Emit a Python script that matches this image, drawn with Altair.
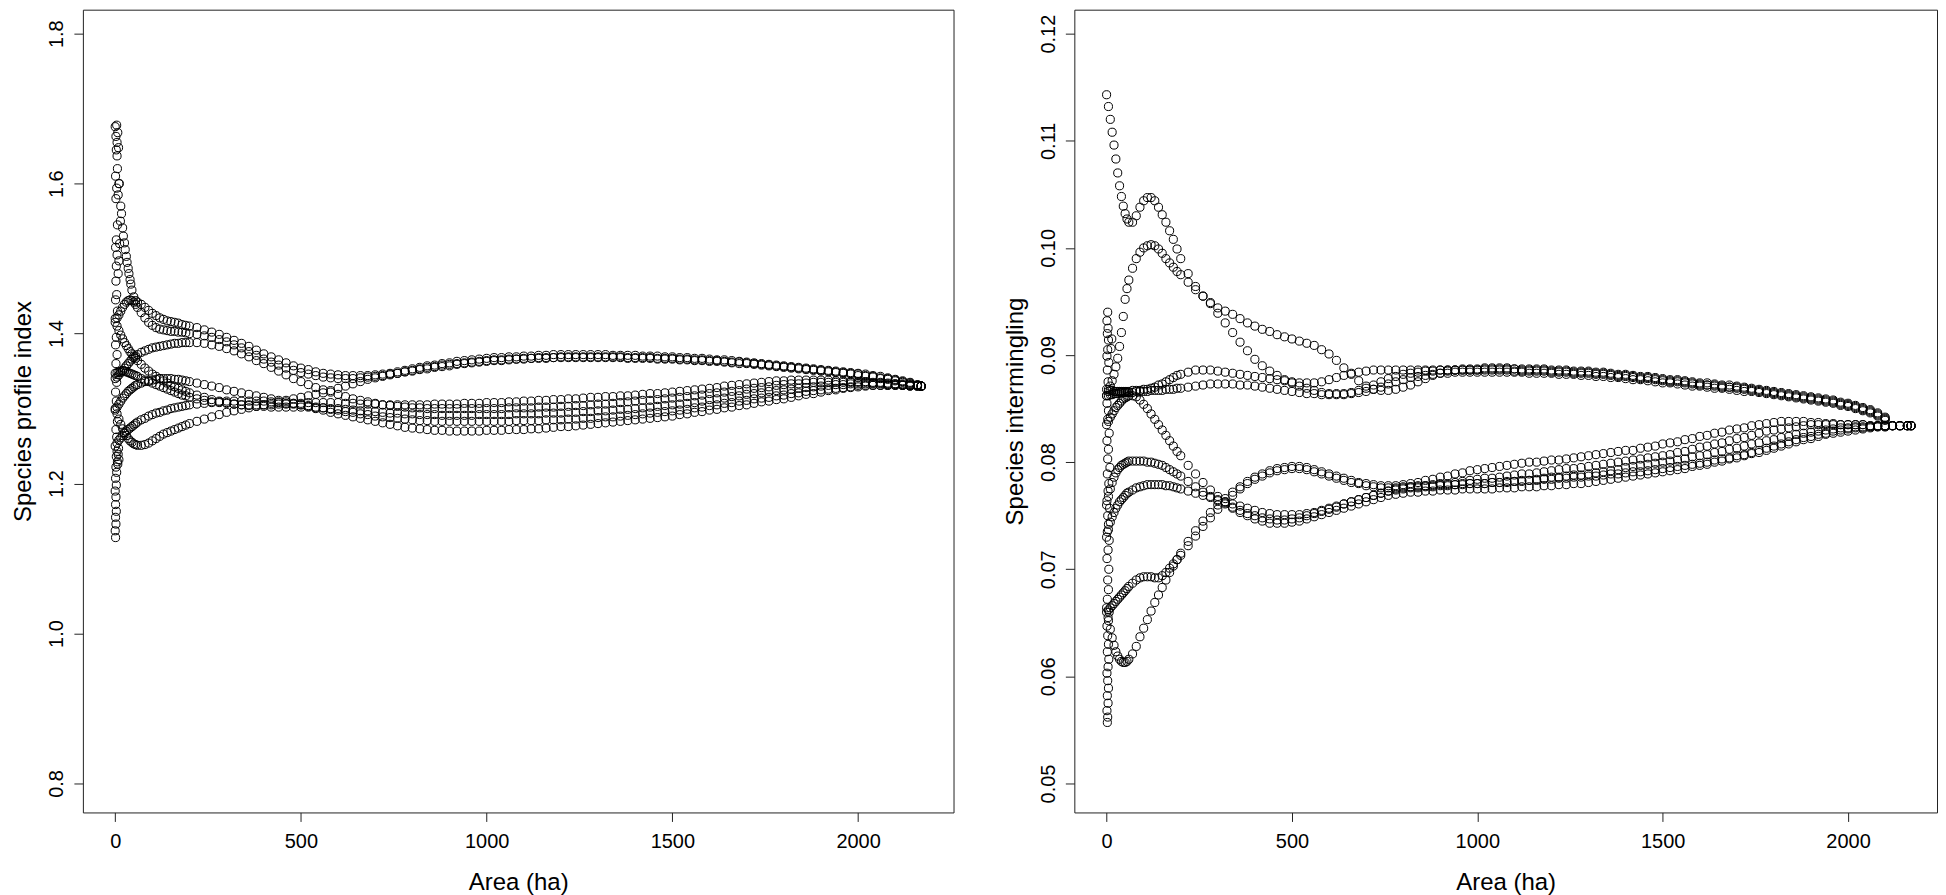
import altair as alt
import pandas as pd

# Area grid (ha) shared by every curve
AREA = [0, 5, 10, 15, 20, 25, 30, 35, 40, 45, 50, 55, 60,
        70, 80, 90, 100, 110, 120, 130, 140, 150, 160, 170, 180, 190, 200,
        220, 240, 260, 280, 300, 320, 340, 360, 380, 400, 420, 440, 460, 480, 500,
        520, 540, 560, 580, 600, 620, 640, 660, 680, 700, 720, 740, 760, 780, 800,
        820, 840, 860, 880, 900, 920, 940, 960, 980, 1000,
        1020, 1040, 1060, 1080, 1100, 1120, 1140, 1160, 1180, 1200,
        1220, 1240, 1260, 1280, 1300, 1320, 1340, 1360, 1380, 1400,
        1420, 1440, 1460, 1480, 1500, 1520, 1540, 1560, 1580, 1600,
        1620, 1640, 1660, 1680, 1700, 1720, 1740, 1760, 1780, 1800,
        1820, 1840, 1860, 1880, 1900, 1920, 1940, 1960, 1980, 2000,
        2020, 2040, 2060, 2080, 2100, 2120, 2140, 2160,
        2170]

# ---------------- Species profile index ----------------
SPI_1 = [1.676, 1.637, 1.600, 1.570, 1.541, 1.521, 1.503, 1.487, 1.472, 1.458, 1.449, 1.444, 1.442,
         1.439, 1.435, 1.431, 1.427, 1.424, 1.421, 1.419, 1.417, 1.416, 1.415, 1.414, 1.412, 1.411, 1.410,
         1.408, 1.405, 1.402, 1.399, 1.395, 1.391, 1.387, 1.383, 1.378, 1.373, 1.369, 1.365, 1.361, 1.357, 1.354,
         1.352, 1.349, 1.347, 1.346, 1.345, 1.344, 1.344, 1.344, 1.344, 1.345, 1.346, 1.347, 1.349, 1.351, 1.353,
         1.355, 1.357, 1.358, 1.360, 1.361, 1.363, 1.364, 1.365, 1.366, 1.367,
         1.368, 1.368, 1.369, 1.369, 1.370, 1.370, 1.371, 1.371, 1.372, 1.372,
         1.372, 1.372, 1.372, 1.372, 1.372, 1.372, 1.371, 1.371, 1.371, 1.371,
         1.370, 1.370, 1.370, 1.369, 1.369, 1.368, 1.368, 1.367, 1.367, 1.366,
         1.365, 1.365, 1.364, 1.363, 1.362, 1.361, 1.360, 1.359, 1.358, 1.357,
         1.356, 1.355, 1.354, 1.353, 1.352, 1.351, 1.350, 1.349, 1.348, 1.347,
         1.346, 1.344, 1.343, 1.341, 1.339, 1.337, 1.335, 1.332,
         1.330]
SPI_2 = [1.420, 1.421, 1.425, 1.430, 1.435, 1.439, 1.442, 1.444, 1.445, 1.444, 1.442, 1.439, 1.435,
         1.428, 1.421, 1.415, 1.411, 1.408, 1.406, 1.405, 1.404, 1.403, 1.403, 1.402, 1.402, 1.401, 1.400,
         1.399, 1.397, 1.395, 1.392, 1.389, 1.385, 1.381, 1.376, 1.371, 1.366, 1.362, 1.358, 1.354, 1.351, 1.348,
         1.346, 1.344, 1.342, 1.341, 1.340, 1.340, 1.340, 1.341, 1.342, 1.343, 1.344, 1.346, 1.347, 1.349, 1.350,
         1.352, 1.353, 1.355, 1.356, 1.357, 1.359, 1.360, 1.361, 1.362, 1.363,
         1.364, 1.364, 1.365, 1.366, 1.366, 1.367, 1.367, 1.367, 1.368, 1.368,
         1.368, 1.368, 1.368, 1.368, 1.368, 1.368, 1.368, 1.368, 1.367, 1.367,
         1.367, 1.367, 1.366, 1.366, 1.366, 1.365, 1.365, 1.364, 1.364, 1.363,
         1.363, 1.362, 1.361, 1.360, 1.360, 1.359, 1.358, 1.357, 1.356, 1.355,
         1.354, 1.353, 1.352, 1.351, 1.350, 1.349, 1.348, 1.347, 1.346, 1.344,
         1.343, 1.342, 1.340, 1.339, 1.337, 1.335, 1.333, 1.331,
         1.330]
SPI_3 = [1.340, 1.342, 1.345, 1.348, 1.351, 1.354, 1.357, 1.360, 1.363, 1.366, 1.368, 1.370, 1.372,
         1.375, 1.377, 1.379, 1.381, 1.382, 1.383, 1.384, 1.385, 1.386, 1.387, 1.387, 1.388, 1.388, 1.388,
         1.388, 1.387, 1.385, 1.383, 1.380, 1.377, 1.373, 1.369, 1.364, 1.360, 1.355, 1.350, 1.345, 1.340, 1.336,
         1.332, 1.328, 1.325, 1.322, 1.319, 1.316, 1.313, 1.311, 1.309, 1.307, 1.305, 1.304, 1.303, 1.302, 1.301,
         1.301, 1.300, 1.300, 1.300, 1.300, 1.300, 1.300, 1.300, 1.300, 1.300,
         1.300, 1.300, 1.301, 1.301, 1.301, 1.301, 1.302, 1.302, 1.302, 1.303,
         1.303, 1.304, 1.304, 1.305, 1.306, 1.306, 1.307, 1.308, 1.309, 1.310,
         1.311, 1.311, 1.312, 1.313, 1.314, 1.315, 1.316, 1.317, 1.318, 1.320,
         1.321, 1.322, 1.323, 1.324, 1.326, 1.327, 1.328, 1.329, 1.331, 1.332,
         1.333, 1.333, 1.334, 1.335, 1.335, 1.335, 1.335, 1.335, 1.335, 1.335,
         1.335, 1.334, 1.334, 1.333, 1.333, 1.332, 1.331, 1.331,
         1.330]
SPI_4 = [1.415, 1.410, 1.404, 1.398, 1.393, 1.388, 1.384, 1.380, 1.376, 1.373, 1.370, 1.367, 1.364,
         1.359, 1.354, 1.350, 1.346, 1.343, 1.340, 1.337, 1.334, 1.331, 1.329, 1.327, 1.325, 1.323, 1.321,
         1.318, 1.315, 1.312, 1.310, 1.308, 1.306, 1.305, 1.304, 1.303, 1.303, 1.302, 1.302, 1.302, 1.302, 1.302,
         1.302, 1.301, 1.301, 1.300, 1.300, 1.299, 1.298, 1.297, 1.297, 1.296, 1.295, 1.294, 1.294, 1.293, 1.293,
         1.292, 1.292, 1.292, 1.291, 1.291, 1.291, 1.291, 1.291, 1.292, 1.292,
         1.292, 1.292, 1.292, 1.293, 1.293, 1.293, 1.293, 1.294, 1.294, 1.294,
         1.295, 1.295, 1.296, 1.296, 1.297, 1.297, 1.298, 1.299, 1.299, 1.300,
         1.301, 1.302, 1.303, 1.304, 1.305, 1.306, 1.307, 1.308, 1.310, 1.312,
         1.313, 1.314, 1.316, 1.317, 1.319, 1.320, 1.321, 1.323, 1.324, 1.325,
         1.326, 1.327, 1.328, 1.329, 1.330, 1.331, 1.332, 1.332, 1.333, 1.333,
         1.333, 1.333, 1.333, 1.332, 1.332, 1.331, 1.331, 1.330,
         1.330]
SPI_5 = [1.347, 1.348, 1.349, 1.350, 1.350, 1.350, 1.349, 1.348, 1.347, 1.346, 1.345, 1.344, 1.343,
         1.340, 1.338, 1.336, 1.334, 1.332, 1.330, 1.328, 1.326, 1.324, 1.322, 1.320, 1.318, 1.317, 1.315,
         1.313, 1.311, 1.309, 1.308, 1.307, 1.306, 1.305, 1.305, 1.305, 1.305, 1.305, 1.306, 1.306, 1.307, 1.307,
         1.308, 1.308, 1.308, 1.308, 1.308, 1.307, 1.307, 1.306, 1.306, 1.306, 1.305, 1.305, 1.305, 1.305, 1.305,
         1.305, 1.305, 1.306, 1.306, 1.306, 1.306, 1.307, 1.307, 1.307, 1.308,
         1.308, 1.308, 1.309, 1.309, 1.310, 1.310, 1.311, 1.311, 1.312, 1.312,
         1.313, 1.313, 1.314, 1.315, 1.315, 1.316, 1.316, 1.317, 1.317, 1.318,
         1.319, 1.320, 1.320, 1.321, 1.322, 1.323, 1.324, 1.325, 1.326, 1.327,
         1.328, 1.330, 1.331, 1.332, 1.333, 1.334, 1.335, 1.336, 1.337, 1.337,
         1.338, 1.338, 1.338, 1.338, 1.338, 1.338, 1.337, 1.337, 1.336, 1.336,
         1.336, 1.335, 1.335, 1.334, 1.333, 1.333, 1.332, 1.331,
         1.330]
SPI_6 = [1.300, 1.293, 1.286, 1.279, 1.273, 1.268, 1.264, 1.260, 1.257, 1.255, 1.253, 1.252, 1.251,
         1.251, 1.252, 1.254, 1.257, 1.260, 1.263, 1.266, 1.268, 1.270, 1.272, 1.274, 1.276, 1.278, 1.280,
         1.283, 1.286, 1.289, 1.292, 1.295, 1.297, 1.299, 1.301, 1.303, 1.305, 1.307, 1.309, 1.311, 1.313, 1.315,
         1.317, 1.319, 1.321, 1.324, 1.327, 1.330, 1.333, 1.336, 1.339, 1.341, 1.343, 1.345, 1.347, 1.349, 1.351,
         1.353, 1.355, 1.356, 1.358, 1.359, 1.360, 1.361, 1.362, 1.363, 1.364,
         1.365, 1.365, 1.366, 1.366, 1.367, 1.367, 1.368, 1.368, 1.368, 1.369,
         1.369, 1.369, 1.369, 1.369, 1.369, 1.369, 1.369, 1.369, 1.368, 1.368,
         1.368, 1.368, 1.367, 1.367, 1.367, 1.366, 1.366, 1.365, 1.365, 1.364,
         1.364, 1.363, 1.362, 1.362, 1.361, 1.360, 1.359, 1.358, 1.357, 1.356,
         1.355, 1.354, 1.353, 1.352, 1.351, 1.350, 1.349, 1.348, 1.347, 1.346,
         1.344, 1.343, 1.341, 1.340, 1.338, 1.336, 1.334, 1.331,
         1.330]
SPI_7 = [1.298, 1.302, 1.306, 1.310, 1.314, 1.317, 1.320, 1.323, 1.325, 1.327, 1.329, 1.331, 1.332,
         1.334, 1.336, 1.337, 1.338, 1.339, 1.340, 1.340, 1.340, 1.340, 1.339, 1.339, 1.338, 1.337, 1.336,
         1.334, 1.332, 1.330, 1.328, 1.325, 1.323, 1.321, 1.319, 1.317, 1.315, 1.313, 1.311, 1.309, 1.307, 1.305,
         1.303, 1.300, 1.298, 1.295, 1.293, 1.291, 1.289, 1.287, 1.285, 1.283, 1.281, 1.279, 1.277, 1.275, 1.274,
         1.273, 1.272, 1.271, 1.271, 1.270, 1.270, 1.270, 1.270, 1.270, 1.271,
         1.271, 1.271, 1.272, 1.272, 1.272, 1.273, 1.273, 1.274, 1.275, 1.276,
         1.276, 1.277, 1.278, 1.279, 1.280, 1.281, 1.282, 1.283, 1.284, 1.285,
         1.286, 1.287, 1.288, 1.289, 1.290, 1.292, 1.293, 1.295, 1.296, 1.298,
         1.299, 1.301, 1.302, 1.304, 1.305, 1.307, 1.309, 1.310, 1.312, 1.313,
         1.315, 1.317, 1.319, 1.320, 1.322, 1.324, 1.325, 1.327, 1.328, 1.329,
         1.330, 1.331, 1.331, 1.331, 1.331, 1.331, 1.330, 1.330,
         1.330]
SPI_8 = [1.250, 1.254, 1.258, 1.261, 1.264, 1.267, 1.270, 1.272, 1.274, 1.276, 1.278, 1.280, 1.282,
         1.285, 1.287, 1.290, 1.292, 1.294, 1.295, 1.297, 1.298, 1.300, 1.301, 1.302, 1.303, 1.304, 1.305,
         1.306, 1.307, 1.308, 1.309, 1.310, 1.310, 1.310, 1.310, 1.310, 1.310, 1.309, 1.308, 1.307, 1.306, 1.305,
         1.304, 1.302, 1.301, 1.299, 1.298, 1.296, 1.295, 1.293, 1.292, 1.290, 1.289, 1.288, 1.287, 1.286, 1.285,
         1.284, 1.284, 1.283, 1.283, 1.283, 1.283, 1.283, 1.283, 1.283, 1.283,
         1.283, 1.283, 1.283, 1.284, 1.284, 1.284, 1.284, 1.285, 1.285, 1.285,
         1.286, 1.286, 1.287, 1.287, 1.288, 1.289, 1.289, 1.290, 1.291, 1.292,
         1.293, 1.294, 1.295, 1.296, 1.297, 1.298, 1.299, 1.301, 1.302, 1.304,
         1.305, 1.307, 1.308, 1.310, 1.311, 1.313, 1.314, 1.315, 1.317, 1.318,
         1.320, 1.321, 1.323, 1.324, 1.325, 1.326, 1.327, 1.328, 1.329, 1.331,
         1.331, 1.331, 1.331, 1.331, 1.331, 1.331, 1.330, 1.330,
         1.330]

# scattered first observations near zero area
SPI_START_AREA = [1, 0, 2, 1, 3, 1, 2, 0, 3, 1, 4, 2, 6, 3, 5, 8, 10, 7, 9, 4, 2, 6, 3, 1, 4, 2, 5, 1, 3,
                  6, 1, 4, 2, 8, 3, 10, 5, 1, 12, 3, 6, 14, 2, 8, 4, 11, 1, 6, 3, 9, 5, 2, 7, 4,
                  17, 22, 27, 32, 37, 42]
SPI_START_VALUE = [1.128, 1.137, 1.146, 1.155, 1.163, 1.172, 1.182, 1.190, 1.198, 1.207, 1.215, 1.222,
                   1.229, 1.236, 1.243, 1.239, 1.232, 1.226, 1.247, 1.262, 1.272, 1.283, 1.310, 1.322,
                   1.335, 1.360, 1.372, 1.385, 1.395, 1.430, 1.445, 1.452, 1.470, 1.480, 1.490, 1.497,
                   1.505, 1.515, 1.520, 1.525, 1.545, 1.550, 1.580, 1.585, 1.594, 1.600, 1.610, 1.620,
                   1.645, 1.648, 1.655, 1.663, 1.668, 1.678,
                   1.560, 1.530, 1.512, 1.495, 1.480, 1.466]

# ---------------- Species intermingling ----------------
SIM_1 = [0.1143, 0.1132, 0.1120, 0.1108, 0.1096, 0.1083, 0.1070, 0.1058, 0.1048, 0.1039, 0.1032, 0.1027, 0.1024,
         0.1024, 0.1030, 0.1038, 0.1044, 0.1047, 0.1047, 0.1044, 0.1038, 0.1031, 0.1024, 0.1016, 0.1008, 0.0999, 0.0990,
         0.0976, 0.0964, 0.0955, 0.0949, 0.0944, 0.0941, 0.0938, 0.0934, 0.0930, 0.0927, 0.0924, 0.0922, 0.0919, 0.0917, 0.0915,
         0.0913, 0.0911, 0.0909, 0.0905, 0.0901, 0.0895, 0.0888, 0.0882, 0.0876, 0.0871, 0.0868, 0.0867, 0.0867, 0.0868, 0.0870,
         0.0872, 0.0875, 0.0878, 0.0881, 0.0883, 0.0885, 0.0886, 0.0887, 0.0887, 0.0887,
         0.0887, 0.0887, 0.0887, 0.0887, 0.0887, 0.0886, 0.0886, 0.0886, 0.0886, 0.0885,
         0.0885, 0.0885, 0.0884, 0.0884, 0.0884, 0.0883, 0.0883, 0.0882, 0.0881, 0.0881,
         0.0880, 0.0879, 0.0879, 0.0878, 0.0877, 0.0876, 0.0876, 0.0875, 0.0874, 0.0873,
         0.0872, 0.0872, 0.0871, 0.0870, 0.0870, 0.0869, 0.0868, 0.0867, 0.0866, 0.0865,
         0.0864, 0.0863, 0.0862, 0.0861, 0.0860, 0.0859, 0.0858, 0.0857, 0.0855, 0.0854,
         0.0852, 0.0850, 0.0848, 0.0845, 0.0841, None, None, None,
         None]
SIM_2 = [0.0862, 0.0866, 0.0871, 0.0876, 0.0882, 0.0889, 0.0897, 0.0908, 0.0921, 0.0936, 0.0952, 0.0962, 0.0970,
         0.0981, 0.0990, 0.0996, 0.1000, 0.1002, 0.1003, 0.1002, 0.0999, 0.0995, 0.0990, 0.0986, 0.0982, 0.0978, 0.0975,
         0.0968, 0.0961, 0.0955, 0.0948, 0.0939, 0.0930, 0.0921, 0.0912, 0.0904, 0.0896, 0.0890, 0.0885, 0.0881, 0.0877, 0.0874,
         0.0871, 0.0869, 0.0867, 0.0865, 0.0864, 0.0864, 0.0864, 0.0865, 0.0867, 0.0869, 0.0872, 0.0875, 0.0878, 0.0880, 0.0882,
         0.0883, 0.0884, 0.0885, 0.0885, 0.0886, 0.0886, 0.0886, 0.0886, 0.0886, 0.0886,
         0.0886, 0.0886, 0.0886, 0.0886, 0.0885, 0.0885, 0.0885, 0.0885, 0.0885, 0.0884,
         0.0884, 0.0884, 0.0883, 0.0883, 0.0883, 0.0882, 0.0882, 0.0881, 0.0880, 0.0880,
         0.0879, 0.0878, 0.0878, 0.0877, 0.0876, 0.0875, 0.0875, 0.0874, 0.0873, 0.0872,
         0.0872, 0.0871, 0.0870, 0.0870, 0.0869, 0.0868, 0.0867, 0.0866, 0.0865, 0.0864,
         0.0863, 0.0862, 0.0861, 0.0860, 0.0859, 0.0858, 0.0857, 0.0856, 0.0854, 0.0853,
         0.0851, 0.0849, 0.0847, 0.0844, 0.0840, None, None, None,
         None]
SIM_3 = [0.0868, 0.0868, 0.0867, 0.0867, 0.0866, 0.0866, 0.0866, 0.0866, 0.0866, 0.0866, 0.0866, 0.0866, 0.0866,
         0.0867, 0.0867, 0.0867, 0.0868, 0.0868, 0.0869, 0.0870, 0.0872, 0.0873, 0.0875, 0.0877, 0.0879, 0.0881, 0.0882,
         0.0884, 0.0886, 0.0886, 0.0886, 0.0885, 0.0884, 0.0883, 0.0882, 0.0881, 0.0880, 0.0879, 0.0878, 0.0877, 0.0876, 0.0875,
         0.0874, 0.0874, 0.0874, 0.0875, 0.0877, 0.0879, 0.0881, 0.0883, 0.0884, 0.0885, 0.0886, 0.0886, 0.0886, 0.0886, 0.0886,
         0.0886, 0.0886, 0.0886, 0.0886, 0.0886, 0.0886, 0.0886, 0.0886, 0.0886, 0.0886,
         0.0888, 0.0888, 0.0888, 0.0888, 0.0887, 0.0887, 0.0887, 0.0887, 0.0887, 0.0886,
         0.0886, 0.0886, 0.0885, 0.0885, 0.0885, 0.0884, 0.0884, 0.0883, 0.0882, 0.0882,
         0.0881, 0.0880, 0.0880, 0.0879, 0.0878, 0.0877, 0.0877, 0.0876, 0.0875, 0.0874,
         0.0874, 0.0873, 0.0872, 0.0872, 0.0871, 0.0870, 0.0869, 0.0868, 0.0867, 0.0866,
         0.0865, 0.0864, 0.0863, 0.0862, 0.0861, 0.0860, 0.0859, 0.0858, 0.0856, 0.0855,
         0.0853, 0.0851, 0.0849, 0.0846, 0.0842, None, None, None,
         None]
SIM_4 = [0.0862, 0.0862, 0.0863, 0.0863, 0.0864, 0.0864, 0.0864, 0.0865, 0.0865, 0.0865, 0.0865, 0.0865, 0.0865,
         0.0865, 0.0866, 0.0866, 0.0866, 0.0866, 0.0867, 0.0867, 0.0867, 0.0867, 0.0868, 0.0868, 0.0868, 0.0869, 0.0869,
         0.0870, 0.0871, 0.0872, 0.0873, 0.0873, 0.0873, 0.0873, 0.0872, 0.0872, 0.0871, 0.0870, 0.0869, 0.0868, 0.0867, 0.0866,
         0.0865, 0.0864, 0.0864, 0.0863, 0.0863, 0.0863, 0.0863, 0.0864, 0.0865, 0.0866, 0.0868, 0.0870, 0.0873, 0.0875, 0.0877,
         0.0879, 0.0880, 0.0881, 0.0882, 0.0883, 0.0883, 0.0884, 0.0884, 0.0884, 0.0884,
         0.0884, 0.0884, 0.0884, 0.0884, 0.0884, 0.0884, 0.0883, 0.0883, 0.0883, 0.0883,
         0.0882, 0.0882, 0.0882, 0.0881, 0.0881, 0.0880, 0.0880, 0.0879, 0.0879, 0.0878,
         0.0877, 0.0877, 0.0876, 0.0875, 0.0874, 0.0874, 0.0873, 0.0872, 0.0871, 0.0871,
         0.0870, 0.0869, 0.0869, 0.0868, 0.0867, 0.0866, 0.0866, 0.0865, 0.0864, 0.0863,
         0.0862, 0.0861, 0.0860, 0.0859, 0.0858, 0.0857, 0.0856, 0.0855, 0.0853, 0.0852,
         0.0850, 0.0848, 0.0846, 0.0843, 0.0839, None, None, None,
         None]
SIM_5 = [0.0760, 0.0768, 0.0775, 0.0781, 0.0786, 0.0790, 0.0793, 0.0795, 0.0797, 0.0798, 0.0799, 0.0800, 0.0801,
         0.0801, 0.0801, 0.0801, 0.0801, 0.0800, 0.0800, 0.0799, 0.0798, 0.0797, 0.0795, 0.0793, 0.0791, 0.0789, 0.0787,
         0.0782, 0.0777, 0.0772, 0.0768, 0.0764, 0.0761, 0.0758, 0.0755, 0.0752, 0.0750, 0.0748, 0.0747, 0.0746, 0.0746, 0.0747,
         0.0748, 0.0750, 0.0752, 0.0754, 0.0756, 0.0758, 0.0761, 0.0763, 0.0765, 0.0767, 0.0769, 0.0771, 0.0773, 0.0775, 0.0776,
         0.0777, 0.0777, 0.0778, 0.0778, 0.0779, 0.0779, 0.0779, 0.0780, 0.0780, 0.0780,
         0.0780, 0.0781, 0.0781, 0.0781, 0.0782, 0.0782, 0.0783, 0.0783, 0.0784, 0.0784,
         0.0785, 0.0785, 0.0786, 0.0786, 0.0787, 0.0787, 0.0788, 0.0789, 0.0789, 0.0790,
         0.0791, 0.0791, 0.0792, 0.0793, 0.0794, 0.0795, 0.0796, 0.0797, 0.0798, 0.0799,
         0.0800, 0.0802, 0.0803, 0.0804, 0.0806, 0.0807, 0.0809, 0.0811, 0.0813, 0.0815,
         0.0817, 0.0819, 0.0821, 0.0823, 0.0824, 0.0826, 0.0827, 0.0829, 0.0830, 0.0831,
         0.0832, 0.0832, 0.0833, 0.0833, 0.0833, 0.0834, 0.0834, 0.0834,
         0.0834]
SIM_6 = [0.0835, 0.0838, 0.0842, 0.0845, 0.0848, 0.0851, 0.0853, 0.0855, 0.0857, 0.0859, 0.0860, 0.0861, 0.0862,
         0.0862, 0.0861, 0.0858, 0.0854, 0.0850, 0.0845, 0.0840, 0.0835, 0.0830, 0.0825, 0.0820, 0.0815, 0.0810, 0.0806,
         0.0797, 0.0789, 0.0781, 0.0774, 0.0768, 0.0762, 0.0757, 0.0753, 0.0750, 0.0747, 0.0745, 0.0743, 0.0743, 0.0743, 0.0744,
         0.0745, 0.0747, 0.0749, 0.0751, 0.0753, 0.0755, 0.0757, 0.0759, 0.0761, 0.0763, 0.0765, 0.0767, 0.0769, 0.0770, 0.0771,
         0.0772, 0.0772, 0.0773, 0.0773, 0.0774, 0.0774, 0.0774, 0.0775, 0.0775, 0.0775,
         0.0775, 0.0775, 0.0776, 0.0776, 0.0776, 0.0777, 0.0777, 0.0777, 0.0778, 0.0778,
         0.0779, 0.0779, 0.0780, 0.0780, 0.0781, 0.0782, 0.0783, 0.0784, 0.0785, 0.0786,
         0.0787, 0.0788, 0.0789, 0.0790, 0.0791, 0.0792, 0.0793, 0.0794, 0.0796, 0.0797,
         0.0798, 0.0800, 0.0801, 0.0803, 0.0804, 0.0806, 0.0808, 0.0809, 0.0811, 0.0813,
         0.0815, 0.0817, 0.0819, 0.0821, 0.0822, 0.0824, 0.0826, 0.0827, 0.0828, 0.0829,
         0.0830, 0.0831, 0.0832, 0.0833, 0.0833, 0.0834, 0.0834, 0.0834,
         0.0834]
SIM_7 = [0.0664, 0.0652, 0.0644, 0.0636, 0.0629, 0.0623, 0.0619, 0.0616, 0.0614, 0.0613, 0.0613, 0.0614, 0.0616,
         0.0621, 0.0628, 0.0637, 0.0645, 0.0653, 0.0661, 0.0669, 0.0676, 0.0683, 0.0690, 0.0697, 0.0703, 0.0709, 0.0715,
         0.0726, 0.0736, 0.0745, 0.0753, 0.0760, 0.0766, 0.0772, 0.0777, 0.0782, 0.0786, 0.0789, 0.0792, 0.0794, 0.0795, 0.0796,
         0.0796, 0.0795, 0.0793, 0.0791, 0.0789, 0.0787, 0.0785, 0.0783, 0.0781, 0.0780, 0.0779, 0.0778, 0.0778, 0.0778, 0.0779,
         0.0780, 0.0781, 0.0783, 0.0784, 0.0786, 0.0787, 0.0789, 0.0790, 0.0792, 0.0793,
         0.0794, 0.0795, 0.0796, 0.0797, 0.0798, 0.0799, 0.0800, 0.0800, 0.0801, 0.0802,
         0.0802, 0.0803, 0.0804, 0.0805, 0.0806, 0.0807, 0.0808, 0.0809, 0.0810, 0.0811,
         0.0811, 0.0813, 0.0814, 0.0815, 0.0817, 0.0818, 0.0819, 0.0821, 0.0822, 0.0824,
         0.0825, 0.0827, 0.0828, 0.0830, 0.0831, 0.0832, 0.0834, 0.0835, 0.0836, 0.0837,
         0.0838, 0.0838, 0.0838, 0.0838, 0.0837, 0.0837, 0.0836, 0.0836, 0.0835, 0.0835,
         0.0835, 0.0835, 0.0834, 0.0834, 0.0834, 0.0834, 0.0834, 0.0834,
         0.0834]
SIM_8 = [0.0660, 0.0662, 0.0664, 0.0666, 0.0668, 0.0670, 0.0672, 0.0674, 0.0676, 0.0678, 0.0680, 0.0682, 0.0684,
         0.0687, 0.0690, 0.0692, 0.0693, 0.0693, 0.0693, 0.0692, 0.0692, 0.0694, 0.0697, 0.0701, 0.0705, 0.0709, 0.0713,
         0.0722, 0.0731, 0.0740, 0.0748, 0.0756, 0.0763, 0.0769, 0.0775, 0.0780, 0.0784, 0.0787, 0.0790, 0.0792, 0.0793, 0.0794,
         0.0794, 0.0793, 0.0791, 0.0789, 0.0787, 0.0785, 0.0783, 0.0781, 0.0780, 0.0778, 0.0777, 0.0776, 0.0776, 0.0776, 0.0777,
         0.0777, 0.0778, 0.0778, 0.0779, 0.0780, 0.0780, 0.0781, 0.0782, 0.0783, 0.0784,
         0.0785, 0.0785, 0.0786, 0.0787, 0.0788, 0.0789, 0.0789, 0.0790, 0.0791, 0.0792,
         0.0793, 0.0794, 0.0794, 0.0795, 0.0796, 0.0797, 0.0798, 0.0799, 0.0800, 0.0801,
         0.0802, 0.0803, 0.0804, 0.0805, 0.0806, 0.0807, 0.0809, 0.0810, 0.0812, 0.0814,
         0.0815, 0.0817, 0.0818, 0.0820, 0.0822, 0.0823, 0.0825, 0.0827, 0.0829, 0.0830,
         0.0831, 0.0832, 0.0833, 0.0834, 0.0835, 0.0835, 0.0835, 0.0835, 0.0835, 0.0835,
         0.0835, 0.0835, 0.0834, 0.0834, 0.0834, 0.0834, 0.0834, 0.0834,
         0.0834]
SIM_9 = [0.0730, 0.0737, 0.0744, 0.0749, 0.0753, 0.0757, 0.0760, 0.0763, 0.0765, 0.0767, 0.0769, 0.0771, 0.0772,
         0.0774, 0.0776, 0.0777, 0.0778, 0.0779, 0.0779, 0.0779, 0.0779, 0.0779, 0.0778, 0.0778, 0.0777, 0.0776, 0.0775,
         0.0773, 0.0771, 0.0769, 0.0767, 0.0765, 0.0763, 0.0761, 0.0759, 0.0757, 0.0755, 0.0753, 0.0752, 0.0751, 0.0751, 0.0751,
         0.0751, 0.0752, 0.0753, 0.0755, 0.0757, 0.0759, 0.0761, 0.0763, 0.0765, 0.0767, 0.0769, 0.0771, 0.0773, 0.0774, 0.0775,
         0.0776, 0.0776, 0.0777, 0.0777, 0.0778, 0.0778, 0.0779, 0.0779, 0.0780, 0.0780,
         0.0780, 0.0781, 0.0781, 0.0782, 0.0782, 0.0783, 0.0783, 0.0784, 0.0785, 0.0786,
         0.0786, 0.0787, 0.0788, 0.0788, 0.0789, 0.0790, 0.0791, 0.0792, 0.0793, 0.0795,
         0.0796, 0.0797, 0.0798, 0.0799, 0.0800, 0.0801, 0.0802, 0.0803, 0.0805, 0.0806,
         0.0807, 0.0809, 0.0810, 0.0812, 0.0813, 0.0815, 0.0817, 0.0818, 0.0820, 0.0821,
         0.0823, 0.0824, 0.0826, 0.0827, 0.0828, 0.0829, 0.0830, 0.0831, 0.0832, 0.0832,
         0.0833, 0.0833, 0.0833, 0.0834, 0.0834, 0.0834, 0.0834, 0.0834,
         0.0834]

SIM_START_AREA = [2, 3, 1, 4, 2, 5, 3, 1, 4, 6, 2, 5, 3, 1, 4, 7, 2, 5, 3, 6, 1, 4, 7, 2, 5, 3, 8, 1,
                  4, 6, 2, 9, 3, 5, 1, 7, 3, 5, 1, 4, 2, 6, 1, 3, 5, 2, 4, 1, 3, 12, 14]
SIM_START_VALUE = [0.0557, 0.0562, 0.0568, 0.0575, 0.0582, 0.0589, 0.0596, 0.0603, 0.0609, 0.0616,
                   0.0623, 0.0630, 0.0638, 0.0647, 0.0655, 0.0660, 0.0672, 0.0681, 0.0690, 0.0700,
                   0.0710, 0.0718, 0.0727, 0.0735, 0.0742, 0.0750, 0.0757, 0.0764, 0.0773, 0.0780,
                   0.0789, 0.0795, 0.0803, 0.0812, 0.0820, 0.0827, 0.0840, 0.0848, 0.0855, 0.0875,
                   0.0886, 0.0893, 0.0899, 0.0905, 0.0914, 0.0920, 0.0925, 0.0932, 0.0940, 0.0906, 0.0915]


def build(curves, start_area, start_value):
    rows = []
    for name, vals in curves:
        assert len(vals) == len(AREA), (name, len(vals))
        for a, v in zip(AREA, vals):
            if v is not None:
                rows.append({"area": a, "value": v, "curve": name})
    for a, v in zip(start_area, start_value):
        rows.append({"area": a, "value": v, "curve": "start"})
    return pd.DataFrame(rows)


left_df = build([("c1", SPI_1), ("c2", SPI_2), ("c3", SPI_3), ("c4", SPI_4),
                 ("c5", SPI_5), ("c6", SPI_6), ("c7", SPI_7), ("c8", SPI_8)],
                SPI_START_AREA, SPI_START_VALUE)
right_df = build([("c1", SIM_1), ("c2", SIM_2), ("c3", SIM_3), ("c4", SIM_4), ("c5", SIM_5),
                  ("c6", SIM_6), ("c7", SIM_7), ("c8", SIM_8), ("c9", SIM_9)],
                 SIM_START_AREA, SIM_START_VALUE)

FONT = "Liberation Sans"
X_TICKS = [0, 500, 1000, 1500, 2000]


def panel(df, xdom, ydom, yticks, yfmt, ytitle, width):
    return alt.Chart(df).mark_point(
        shape="circle", filled=False, size=66, color="#000", strokeWidth=1, opacity=1
    ).encode(
        x=alt.X("area:Q", scale=alt.Scale(domain=xdom, nice=False, zero=False),
                axis=alt.Axis(values=X_TICKS, format="d", title="Area (ha)",
                              labelPadding=10, titlePadding=19)),
        y=alt.Y("value:Q", scale=alt.Scale(domain=ydom, nice=False, zero=False),
                axis=alt.Axis(values=yticks, format=yfmt, title=ytitle, labelAngle=270,
                              labelAlign="center", labelBaseline="bottom",
                              labelPadding=7, titlePadding=11)),
        detail="curve:N",
    ).properties(width=width, height=804)


left = panel(left_df, [-87, 2257], [0.7614, 1.832], [0.8, 1.0, 1.2, 1.4, 1.6, 1.8], ".1f",
             "Species profile index", 872)
right = panel(right_df, [-87, 2240], [0.0473, 0.12224],
              [0.05, 0.06, 0.07, 0.08, 0.09, 0.10, 0.11, 0.12], ".2f",
              "Species intermingling", 864)

chart = alt.hconcat(left, right, spacing=48).properties(
    padding={"left": 3, "top": 0, "right": 0, "bottom": 0}
).configure_view(
    stroke="#222", strokeWidth=1
).configure_axis(
    domain=False, grid=False, tickSize=9, tickColor="#222", tickWidth=1,
    labelFont=FONT, labelFontSize=20, labelColor="#000",
    titleFont=FONT, titleFontSize=24, titleFontWeight="normal", titleColor="#000",
    labelFlush=False, labelOverlap=False
)

chart.save("out.html", embed_options={"renderer": "svg", "actions": False})
